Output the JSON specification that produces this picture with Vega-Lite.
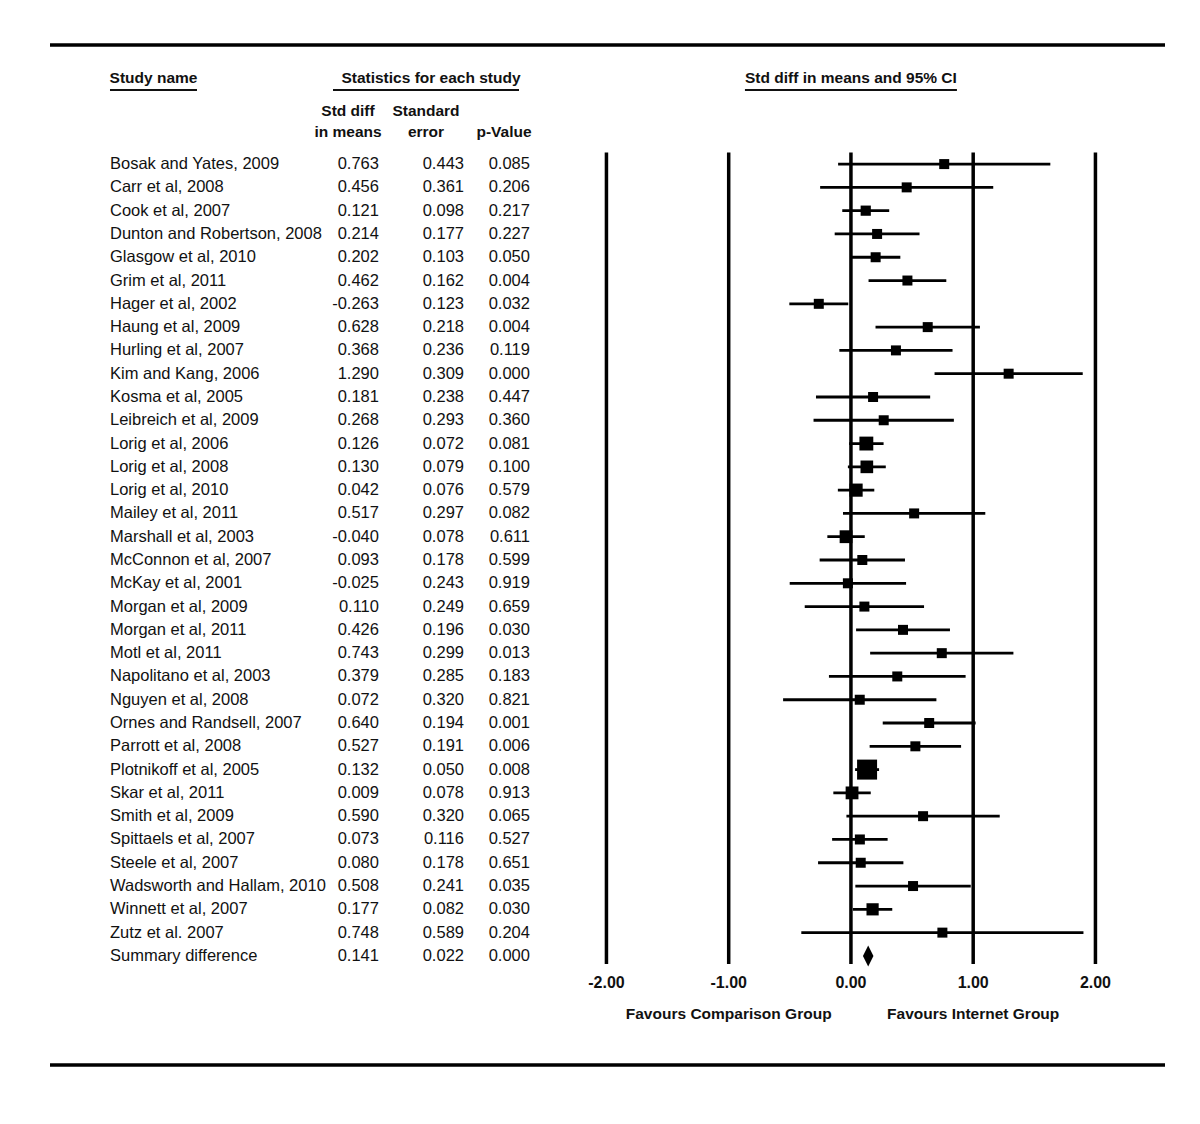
{
  "$schema": "https://vega.github.io/schema/vega-lite/v6.json",
  "padding": {"left": 48, "top": 36, "right": 37, "bottom": 40},
  "bounds": "flush",
  "spacing": 0,
  "config": {
    "view": {"stroke": null},
    "font": "Liberation Sans",
    "locale": {"number": {"decimal": ".", "thousands": ",", "grouping": [3], "currency": ["$", ""], "minus": "-"}}
  },
  "datasets": {
    "studies": [
      {"study": "Bosak and Yates, 2009", "kind": "study", "est": 0.763, "se": 0.443, "p": 0.085, "lo": -0.105, "hi": 1.631, "weight": 0.237},
      {"study": "Carr et al, 2008", "kind": "study", "est": 0.456, "se": 0.361, "p": 0.206, "lo": -0.252, "hi": 1.164, "weight": 0.356},
      {"study": "Cook et al, 2007", "kind": "study", "est": 0.121, "se": 0.098, "p": 0.217, "lo": -0.071, "hi": 0.313, "weight": 4.833},
      {"study": "Dunton and Robertson, 2008", "kind": "study", "est": 0.214, "se": 0.177, "p": 0.227, "lo": -0.133, "hi": 0.561, "weight": 1.481},
      {"study": "Glasgow et al, 2010", "kind": "study", "est": 0.202, "se": 0.103, "p": 0.050, "lo": 0.000, "hi": 0.404, "weight": 4.375},
      {"study": "Grim et al, 2011", "kind": "study", "est": 0.462, "se": 0.162, "p": 0.004, "lo": 0.144, "hi": 0.780, "weight": 1.768},
      {"study": "Hager et al, 2002", "kind": "study", "est": -0.263, "se": 0.123, "p": 0.032, "lo": -0.504, "hi": -0.022, "weight": 3.068},
      {"study": "Haung et al, 2009", "kind": "study", "est": 0.628, "se": 0.218, "p": 0.004, "lo": 0.201, "hi": 1.055, "weight": 0.977},
      {"study": "Hurling et al, 2007", "kind": "study", "est": 0.368, "se": 0.236, "p": 0.119, "lo": -0.095, "hi": 0.831, "weight": 0.833},
      {"study": "Kim and Kang, 2006", "kind": "study", "est": 1.290, "se": 0.309, "p": 0.000, "lo": 0.684, "hi": 1.896, "weight": 0.486},
      {"study": "Kosma et al, 2005", "kind": "study", "est": 0.181, "se": 0.238, "p": 0.447, "lo": -0.286, "hi": 0.648, "weight": 0.819},
      {"study": "Leibreich et al, 2009", "kind": "study", "est": 0.268, "se": 0.293, "p": 0.360, "lo": -0.306, "hi": 0.842, "weight": 0.541},
      {"study": "Lorig et al, 2006", "kind": "study", "est": 0.126, "se": 0.072, "p": 0.081, "lo": -0.015, "hi": 0.267, "weight": 8.953},
      {"study": "Lorig et al, 2008", "kind": "study", "est": 0.130, "se": 0.079, "p": 0.100, "lo": -0.025, "hi": 0.285, "weight": 7.436},
      {"study": "Lorig et al, 2010", "kind": "study", "est": 0.042, "se": 0.076, "p": 0.579, "lo": -0.107, "hi": 0.191, "weight": 8.035},
      {"study": "Mailey et al, 2011", "kind": "study", "est": 0.517, "se": 0.297, "p": 0.082, "lo": -0.065, "hi": 1.099, "weight": 0.526},
      {"study": "Marshall et al, 2003", "kind": "study", "est": -0.040, "se": 0.078, "p": 0.611, "lo": -0.193, "hi": 0.113, "weight": 7.628},
      {"study": "McConnon et al, 2007", "kind": "study", "est": 0.093, "se": 0.178, "p": 0.599, "lo": -0.256, "hi": 0.442, "weight": 1.465},
      {"study": "McKay et al, 2001", "kind": "study", "est": -0.025, "se": 0.243, "p": 0.919, "lo": -0.501, "hi": 0.451, "weight": 0.786},
      {"study": "Morgan et al, 2009", "kind": "study", "est": 0.110, "se": 0.249, "p": 0.659, "lo": -0.378, "hi": 0.598, "weight": 0.749},
      {"study": "Morgan et al, 2011", "kind": "study", "est": 0.426, "se": 0.196, "p": 0.030, "lo": 0.042, "hi": 0.810, "weight": 1.208},
      {"study": "Motl et al, 2011", "kind": "study", "est": 0.743, "se": 0.299, "p": 0.013, "lo": 0.157, "hi": 1.329, "weight": 0.519},
      {"study": "Napolitano et al, 2003", "kind": "study", "est": 0.379, "se": 0.285, "p": 0.183, "lo": -0.180, "hi": 0.938, "weight": 0.571},
      {"study": "Nguyen et al, 2008", "kind": "study", "est": 0.072, "se": 0.320, "p": 0.821, "lo": -0.555, "hi": 0.699, "weight": 0.453},
      {"study": "Ornes and Randsell, 2007", "kind": "study", "est": 0.640, "se": 0.194, "p": 0.001, "lo": 0.260, "hi": 1.020, "weight": 1.233},
      {"study": "Parrott et al, 2008", "kind": "study", "est": 0.527, "se": 0.191, "p": 0.006, "lo": 0.153, "hi": 0.901, "weight": 1.272},
      {"study": "Plotnikoff et al, 2005", "kind": "study", "est": 0.132, "se": 0.050, "p": 0.008, "lo": 0.034, "hi": 0.230, "weight": 18.564},
      {"study": "Skar et al, 2011", "kind": "study", "est": 0.009, "se": 0.078, "p": 0.913, "lo": -0.144, "hi": 0.162, "weight": 7.628},
      {"study": "Smith et al, 2009", "kind": "study", "est": 0.590, "se": 0.320, "p": 0.065, "lo": -0.037, "hi": 1.217, "weight": 0.453},
      {"study": "Spittaels et al, 2007", "kind": "study", "est": 0.073, "se": 0.116, "p": 0.527, "lo": -0.154, "hi": 0.300, "weight": 3.449},
      {"study": "Steele et al, 2007", "kind": "study", "est": 0.080, "se": 0.178, "p": 0.651, "lo": -0.269, "hi": 0.429, "weight": 1.465},
      {"study": "Wadsworth and Hallam, 2010", "kind": "study", "est": 0.508, "se": 0.241, "p": 0.035, "lo": 0.036, "hi": 0.980, "weight": 0.799},
      {"study": "Winnett et al, 2007", "kind": "study", "est": 0.177, "se": 0.082, "p": 0.030, "lo": 0.016, "hi": 0.338, "weight": 6.902},
      {"study": "Zutz et al. 2007", "kind": "study", "est": 0.748, "se": 0.589, "p": 0.204, "lo": -0.406, "hi": 1.902, "weight": 0.134},
      {"study": "Summary difference", "kind": "summary", "est": 0.141, "se": 0.022, "p": 0.000, "lo": 0.098, "hi": 0.184, "weight": 100}
    ],
    "ticks": [{"v": -2}, {"v": -1}, {"v": 0}, {"v": 1}, {"v": 2}],
    "one": [{}]
  },
  "hconcat": [
    {
      "width": 259,
      "height": 1048,
      "layer": [
        {
          "data": {"name": "studies"},
          "mark": {"type": "text", "align": "left", "baseline": "middle", "fontSize": 16.5, "color": "#111"},
          "encoding": {
            "x": {"datum": "Study name", "type": "nominal", "bandPosition": 0, "axis": null,
                  "scale": {"type": "band", "domain": ["Study name"], "paddingInner": 0, "paddingOuter": 0.9885, "align": 0.3488}},
            "y": {"field": "study", "type": "nominal", "axis": null,
                  "scale": {"type": "band", "paddingInner": 0, "paddingOuter": 0, "domain": ["top","title","ul","h1","h2","Bosak and Yates, 2009","Carr et al, 2008","Cook et al, 2007","Dunton and Robertson, 2008","Glasgow et al, 2010","Grim et al, 2011","Hager et al, 2002","Haung et al, 2009","Hurling et al, 2007","Kim and Kang, 2006","Kosma et al, 2005","Leibreich et al, 2009","Lorig et al, 2006","Lorig et al, 2008","Lorig et al, 2010","Mailey et al, 2011","Marshall et al, 2003","McConnon et al, 2007","McKay et al, 2001","Morgan et al, 2009","Morgan et al, 2011","Motl et al, 2011","Napolitano et al, 2003","Nguyen et al, 2008","Ornes and Randsell, 2007","Parrott et al, 2008","Plotnikoff et al, 2005","Skar et al, 2011","Smith et al, 2009","Spittaels et al, 2007","Steele et al, 2007","Wadsworth and Hallam, 2010","Winnett et al, 2007","Zutz et al. 2007","Summary difference","ticks","fav","r1","r2","bottom"]}},
            "text": {"field": "study", "type": "nominal"}
          }
        },
        {
          "data": {"name": "one"},
          "mark": {"type": "text", "align": "center", "baseline": "middle", "fontSize": 15.5, "fontWeight": "bold", "color": "#111"},
          "encoding": {
            "x": {"datum": "Study name", "type": "nominal"},
            "y": {"datum": "title", "type": "nominal", "bandPosition": 0.808},
            "text": {"value": "Study name"}
          }
        },
        {
          "data": {"name": "one"},
          "mark": {"type": "tick", "orient": "horizontal", "size": 87, "thickness": 2, "color": "#111", "opacity": 1},
          "encoding": {
            "x": {"datum": "Study name", "type": "nominal"},
            "y": {"datum": "ul", "type": "nominal", "bandPosition": 0.323}
          }
        },
        {
          "data": {"name": "one"},
          "mark": {"type": "rule", "strokeWidth": 3.5, "color": "black"},
          "encoding": {"y": {"datum": "top", "type": "nominal", "bandPosition": 0.39}}
        },
        {
          "data": {"name": "one"},
          "mark": {"type": "rule", "strokeWidth": 3.5, "color": "black"},
          "encoding": {"y": {"datum": "bottom", "type": "nominal", "bandPosition": 0.18}}
        }
      ]
    },
    {
      "width": 234,
      "height": 1048,
      "layer": [
        {
          "data": {"name": "studies"},
          "mark": {"type": "text", "align": "right", "baseline": "middle", "fontSize": 16.5, "color": "#111"},
          "encoding": {
            "x": {"datum": "Std diff in means", "type": "nominal", "bandPosition": 0.897, "axis": null,
                  "scale": {"type": "band", "domain": ["Std diff in means", "Standard error", "p-Value"], "paddingInner": 0, "paddingOuter": 0}},
            "y": {"field": "study", "type": "nominal", "axis": null,
                  "scale": {"type": "band", "paddingInner": 0, "paddingOuter": 0, "domain": ["top","title","ul","h1","h2","Bosak and Yates, 2009","Carr et al, 2008","Cook et al, 2007","Dunton and Robertson, 2008","Glasgow et al, 2010","Grim et al, 2011","Hager et al, 2002","Haung et al, 2009","Hurling et al, 2007","Kim and Kang, 2006","Kosma et al, 2005","Leibreich et al, 2009","Lorig et al, 2006","Lorig et al, 2008","Lorig et al, 2010","Mailey et al, 2011","Marshall et al, 2003","McConnon et al, 2007","McKay et al, 2001","Morgan et al, 2009","Morgan et al, 2011","Motl et al, 2011","Napolitano et al, 2003","Nguyen et al, 2008","Ornes and Randsell, 2007","Parrott et al, 2008","Plotnikoff et al, 2005","Skar et al, 2011","Smith et al, 2009","Spittaels et al, 2007","Steele et al, 2007","Wadsworth and Hallam, 2010","Winnett et al, 2007","Zutz et al. 2007","Summary difference","ticks","fav","r1","r2","bottom"]}},
            "text": {"field": "est", "type": "quantitative", "format": ".3f"}
          }
        },
        {
          "data": {"name": "studies"},
          "mark": {"type": "text", "align": "right", "baseline": "middle", "fontSize": 16.5, "color": "#111"},
          "encoding": {
            "x": {"datum": "Standard error", "type": "nominal", "bandPosition": 0.987},
            "y": {"field": "study", "type": "nominal"},
            "text": {"field": "se", "type": "quantitative", "format": ".3f"}
          }
        },
        {
          "data": {"name": "studies"},
          "mark": {"type": "text", "align": "right", "baseline": "middle", "fontSize": 16.5, "color": "#111"},
          "encoding": {
            "x": {"datum": "p-Value", "type": "nominal", "bandPosition": 0.833},
            "y": {"field": "study", "type": "nominal"},
            "text": {"field": "p", "type": "quantitative", "format": ".3f"}
          }
        },
        {
          "data": {"values": [{"col": "Std diff in means", "line": "Std diff"}, {"col": "Standard error", "line": "Standard"}]},
          "mark": {"type": "text", "align": "center", "baseline": "middle", "fontSize": 15.5, "fontWeight": "bold", "color": "#111"},
          "encoding": {
            "x": {"field": "col", "type": "nominal"},
            "y": {"datum": "h1", "type": "nominal", "bandPosition": 0.225},
            "text": {"field": "line", "type": "nominal"}
          }
        },
        {
          "data": {"values": [{"col": "Std diff in means", "line": "in means"}, {"col": "Standard error", "line": "error"}, {"col": "p-Value", "line": "p-Value"}]},
          "mark": {"type": "text", "align": "center", "baseline": "middle", "fontSize": 15.5, "fontWeight": "bold", "color": "#111"},
          "encoding": {
            "x": {"field": "col", "type": "nominal"},
            "y": {"datum": "h2", "type": "nominal", "bandPosition": 0.126},
            "text": {"field": "line", "type": "nominal"}
          }
        },
        {
          "data": {"name": "one"},
          "mark": {"type": "text", "align": "center", "baseline": "middle", "fontSize": 15.5, "fontWeight": "bold", "color": "#111"},
          "encoding": {
            "x": {"datum": "Standard error", "type": "nominal", "bandPosition": 0.564},
            "y": {"datum": "title", "type": "nominal", "bandPosition": 0.808},
            "text": {"value": "Statistics for each study"}
          }
        },
        {
          "data": {"name": "one"},
          "mark": {"type": "tick", "orient": "horizontal", "size": 186, "thickness": 2, "color": "#111", "opacity": 1},
          "encoding": {
            "x": {"datum": "Standard error", "type": "nominal", "bandPosition": 0.564},
            "y": {"datum": "ul", "type": "nominal", "bandPosition": 0.323}
          }
        },
        {
          "data": {"name": "one"},
          "mark": {"type": "rule", "strokeWidth": 3.5, "color": "black"},
          "encoding": {"y": {"datum": "top", "type": "nominal", "bandPosition": 0.39}}
        },
        {
          "data": {"name": "one"},
          "mark": {"type": "rule", "strokeWidth": 3.5, "color": "black"},
          "encoding": {"y": {"datum": "bottom", "type": "nominal", "bandPosition": 0.18}}
        }
      ]
    },
    {
      "width": 622,
      "height": 1048,
      "layer": [
        {
          "data": {"name": "ticks"},
          "mark": {"type": "rule", "strokeWidth": 3.5, "color": "black"},
          "encoding": {
            "x": {"field": "v", "type": "quantitative", "axis": null,
                  "scale": {"type": "linear", "domain": [-2.519, 2.569], "nice": false, "zero": false}},
            "y": {"datum": "Bosak and Yates, 2009", "type": "nominal", "bandPosition": 0, "axis": null,
                  "scale": {"type": "band", "paddingInner": 0, "paddingOuter": 0, "domain": ["top","title","ul","h1","h2","Bosak and Yates, 2009","Carr et al, 2008","Cook et al, 2007","Dunton and Robertson, 2008","Glasgow et al, 2010","Grim et al, 2011","Hager et al, 2002","Haung et al, 2009","Hurling et al, 2007","Kim and Kang, 2006","Kosma et al, 2005","Leibreich et al, 2009","Lorig et al, 2006","Lorig et al, 2008","Lorig et al, 2010","Mailey et al, 2011","Marshall et al, 2003","McConnon et al, 2007","McKay et al, 2001","Morgan et al, 2009","Morgan et al, 2011","Motl et al, 2011","Napolitano et al, 2003","Nguyen et al, 2008","Ornes and Randsell, 2007","Parrott et al, 2008","Plotnikoff et al, 2005","Skar et al, 2011","Smith et al, 2009","Spittaels et al, 2007","Steele et al, 2007","Wadsworth and Hallam, 2010","Winnett et al, 2007","Zutz et al. 2007","Summary difference","ticks","fav","r1","r2","bottom"]}},
            "y2": {"datum": "Summary difference", "bandPosition": 0.85}
          }
        },
        {
          "data": {"name": "studies"},
          "transform": [{"filter": "datum.kind == 'study'"}],
          "mark": {"type": "rule", "strokeWidth": 2.8, "color": "black"},
          "encoding": {
            "x": {"field": "lo", "type": "quantitative"},
            "x2": {"field": "hi"},
            "y": {"field": "study", "type": "nominal"}
          }
        },
        {
          "data": {"name": "studies"},
          "transform": [{"filter": "datum.kind == 'study'"}],
          "mark": {"type": "square", "filled": true, "color": "black", "opacity": 1},
          "encoding": {
            "x": {"field": "est", "type": "quantitative"},
            "y": {"field": "study", "type": "nominal"},
            "size": {"field": "weight", "type": "quantitative", "legend": null,
                     "scale": {"type": "linear", "domain": [4.641, 18.564], "range": [100, 400], "clamp": true}}
          }
        },
        {
          "data": {"name": "studies"},
          "transform": [{"filter": "datum.kind == 'summary'"}],
          "mark": {"type": "point", "shape": "M0,-1L0.5,0L0,1L-0.5,0Z", "filled": true, "color": "black", "opacity": 1, "size": 441},
          "encoding": {
            "x": {"field": "est", "type": "quantitative"},
            "y": {"field": "study", "type": "nominal"}
          }
        },
        {
          "data": {"name": "ticks"},
          "mark": {"type": "text", "align": "center", "baseline": "middle", "fontSize": 16, "fontWeight": "bold", "color": "#111"},
          "encoding": {
            "x": {"field": "v", "type": "quantitative"},
            "y": {"datum": "ticks", "type": "nominal", "bandPosition": 0.66},
            "text": {"field": "v", "type": "quantitative", "format": ".2f"}
          }
        },
        {
          "data": {"name": "one"},
          "mark": {"type": "text", "align": "center", "baseline": "middle", "fontSize": 15.5, "fontWeight": "bold", "color": "#111"},
          "encoding": {
            "x": {"datum": -1, "type": "quantitative"},
            "y": {"datum": "fav", "type": "nominal", "bandPosition": 0.99},
            "text": {"value": "Favours Comparison Group"}
          }
        },
        {
          "data": {"name": "one"},
          "mark": {"type": "text", "align": "center", "baseline": "middle", "fontSize": 15.5, "fontWeight": "bold", "color": "#111"},
          "encoding": {
            "x": {"datum": 1, "type": "quantitative"},
            "y": {"datum": "fav", "type": "nominal", "bandPosition": 0.99},
            "text": {"value": "Favours Internet Group"}
          }
        },
        {
          "data": {"name": "one"},
          "mark": {"type": "text", "align": "center", "baseline": "middle", "fontSize": 15.5, "fontWeight": "bold", "color": "#111"},
          "encoding": {
            "x": {"datum": 0, "type": "quantitative"},
            "y": {"datum": "title", "type": "nominal", "bandPosition": 0.808},
            "text": {"value": "Std diff in means and 95% CI"}
          }
        },
        {
          "data": {"name": "one"},
          "mark": {"type": "tick", "orient": "horizontal", "size": 212, "thickness": 2, "color": "#111", "opacity": 1},
          "encoding": {
            "x": {"datum": 0, "type": "quantitative"},
            "y": {"datum": "ul", "type": "nominal", "bandPosition": 0.323}
          }
        },
        {
          "data": {"name": "one"},
          "mark": {"type": "rule", "strokeWidth": 3.5, "color": "black"},
          "encoding": {"y": {"datum": "top", "type": "nominal", "bandPosition": 0.39}}
        },
        {
          "data": {"name": "one"},
          "mark": {"type": "rule", "strokeWidth": 3.5, "color": "black"},
          "encoding": {"y": {"datum": "bottom", "type": "nominal", "bandPosition": 0.18}}
        }
      ]
    }
  ]
}
